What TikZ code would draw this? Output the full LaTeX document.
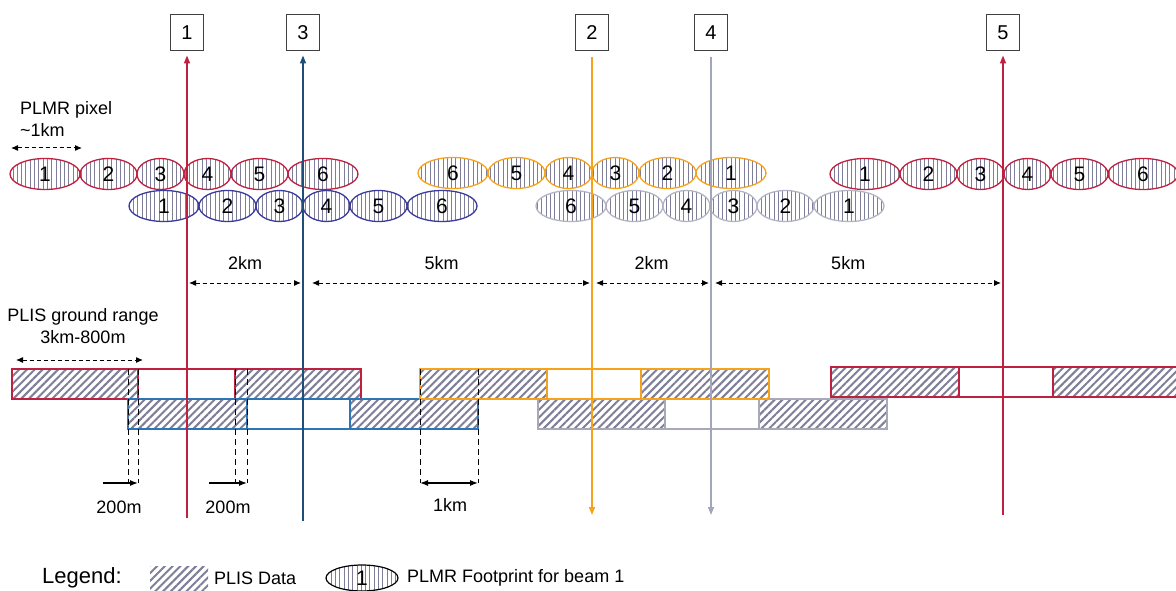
\documentclass[tikz,border=0pt]{standalone}
\usepackage{fontspec}
\setmainfont{Liberation Sans}
\usetikzlibrary{arrows.meta,positioning,shapes.geometric,patterns.meta}

\definecolor{beamred}{HTML}{C0203F}
\definecolor{beamnavy}{HTML}{1F4E79}
\definecolor{beamorange}{HTML}{F7A21B}
\definecolor{beamgrey}{HTML}{A3A6BA}
\definecolor{fpblue}{HTML}{3B3B9E}
\definecolor{fpgrey}{HTML}{B3B3C3}
\definecolor{rectblue}{HTML}{2E75B6}
\definecolor{rectgrey}{HTML}{A8A8B8}
\definecolor{hatchgrey}{HTML}{7E7E98}

\begin{document}
\begin{tikzpicture}[
        x=1pt, y=-1pt,
        font=\fontsize{18}{22}\selectfont,
        beambox/.style={rectangle, draw=black!75, line width=1pt, minimum width=33pt, minimum height=36pt, inner sep=0pt, font=\fontsize{20}{22}\selectfont},
        beamup/.style={line width=1.5pt, -{Triangle[length=8pt,width=6pt]}, shorten >=4pt},
        beamdown/.style={line width=1.5pt, -{Triangle[length=8pt,width=6pt]}, shorten <=6pt},
        footprint/.style={ellipse, draw, line width=1.3pt, inner sep=0pt, outer sep=0pt, minimum height=31pt, preaction={pattern={Lines[angle=90,distance=4.3pt,line width=0.75pt]}, pattern color=hatchgrey}, font=\fontsize{21}{22}\selectfont},
        fpwide/.style={footprint, minimum width=70pt},
        fpmid/.style={footprint, minimum width=57pt},
        fpnarrow/.style={footprint, minimum width=47pt},
        plis/.style={rectangle, line width=1.4pt, inner sep=0pt, outer sep=0pt, minimum height=30pt},
        plisdata/.style={plis, preaction={pattern={Lines[angle=45,distance=5.5pt,line width=2pt]}, pattern color=hatchgrey}},
        guide/.style={line width=1pt, dash pattern=on 6pt off 4pt},
        dimdash/.style={line width=1pt, dash pattern=on 4pt off 3pt, {Latex[length=7pt,width=6pt]}-{Latex[length=7pt,width=6pt]}, shorten <=2pt, shorten >=2pt},
        dimsolid/.style={line width=1.3pt, -{Latex[length=8pt,width=6pt]}},
        dimboth/.style={line width=1.3pt, {Latex[length=8pt,width=6pt]}-{Latex[length=8pt,width=6pt]}},
        dimlabel/.style={midway, yshift=20pt, inner sep=0pt}
    ]
    \useasboundingbox (0,0) rectangle (1176,591);

    % Beam boxes
    \node [beambox] (box1) at (187,33) {1};
    \node [beambox] (box3) at (303,33) {3};
    \node [beambox] (box2) at (592,33) {2};
    \node [beambox] (box4) at (711,33) {4};
    \node [beambox] (box5) at (1003,33) {5};

    % Beam feet
    \coordinate (foot1) at (187,518);
    \coordinate (foot3) at (303,521);
    \coordinate (foot2) at (592,515);
    \coordinate (foot4) at (711,515);
    \coordinate (foot5) at (1003,515);

    % PLMR pixel size
    \node [anchor=west, align=left, inner sep=0pt] (pixtext) at (20,119) {PLMR pixel\\\textasciitilde1km};

    % Beam 1 footprints
    \node [fpwide, draw=beamred] (b1-1) at (45,174) {1};
    \node [fpmid, draw=beamred, right=0pt of b1-1] (b1-2) {2};
    \node [fpnarrow, draw=beamred, right=0pt of b1-2] (b1-3) {3};
    \node [fpnarrow, draw=beamred, right=0pt of b1-3] (b1-4) {4};
    \node [fpmid, draw=beamred, right=0pt of b1-4] (b1-5) {5};
    \node [fpwide, draw=beamred, right=0pt of b1-5] (b1-6) {6};

    % Beam 3 footprints
    \node [fpwide, draw=fpblue] (b3-1) at (164,206) {1};
    \node [fpmid, draw=fpblue, right=0pt of b3-1] (b3-2) {2};
    \node [fpnarrow, draw=fpblue, right=0pt of b3-2] (b3-3) {3};
    \node [fpnarrow, draw=fpblue, right=0pt of b3-3] (b3-4) {4};
    \node [fpmid, draw=fpblue, right=0pt of b3-4] (b3-5) {5};
    \node [fpwide, draw=fpblue, right=0pt of b3-5] (b3-6) {6};

    % Beam 2 footprints
    \node [fpwide, draw=beamorange] (b2-6) at (453,173) {6};
    \node [fpmid, draw=beamorange, right=0pt of b2-6] (b2-5) {5};
    \node [fpnarrow, draw=beamorange, right=0pt of b2-5] (b2-4) {4};
    \node [fpnarrow, draw=beamorange, right=0pt of b2-4] (b2-3) {3};
    \node [fpmid, draw=beamorange, right=0pt of b2-3] (b2-2) {2};
    \node [fpwide, draw=beamorange, right=0pt of b2-2] (b2-1) {1};

    % Beam 4 footprints
    \node [fpwide, draw=fpgrey] (b4-6) at (571,206) {6};
    \node [fpmid, draw=fpgrey, right=0pt of b4-6] (b4-5) {5};
    \node [fpnarrow, draw=fpgrey, right=0pt of b4-5] (b4-4) {4};
    \node [fpnarrow, draw=fpgrey, right=0pt of b4-4] (b4-3) {3};
    \node [fpmid, draw=fpgrey, right=0pt of b4-3] (b4-2) {2};
    \node [fpwide, draw=fpgrey, right=0pt of b4-2] (b4-1) {1};

    % Beam 5 footprints
    \node [fpwide, draw=beamred] (b5-1) at (865,174) {1};
    \node [fpmid, draw=beamred, right=0pt of b5-1] (b5-2) {2};
    \node [fpnarrow, draw=beamred, right=0pt of b5-2] (b5-3) {3};
    \node [fpnarrow, draw=beamred, right=0pt of b5-3] (b5-4) {4};
    \node [fpmid, draw=beamred, right=0pt of b5-4] (b5-5) {5};
    \node [fpwide, draw=beamred, right=0pt of b5-5] (b5-6) {6};

    % PLIS ground range
    \node [align=center, inner sep=0pt] (plistext) at (83,326) {PLIS ground range\\3km-800m};

    % PLIS swaths, beam 1
    \node [plisdata, draw=beamred, minimum width=126pt, anchor=north west] (r1a) at (12,369) {};
    \node [plis, draw=beamred, minimum width=97pt, right=0pt of r1a] (r1b) {};
    \node [plisdata, draw=beamred, minimum width=126pt, right=0pt of r1b] (r1c) {};

    % PLIS swaths, beam 3
    \node [plisdata, draw=rectblue, minimum width=119pt, anchor=north west] (r3a) at (128,399) {};
    \node [plis, draw=rectblue, minimum width=103pt, right=0pt of r3a] (r3b) {};
    \node [plisdata, draw=rectblue, minimum width=128pt, right=0pt of r3b] (r3c) {};

    % PLIS swaths, beam 4
    \node [plisdata, draw=rectgrey, minimum width=127pt, anchor=north west] (r4a) at (538,399) {};
    \node [plis, draw=rectgrey, minimum width=94pt, right=0pt of r4a] (r4b) {};
    \node [plisdata, draw=rectgrey, minimum width=128pt, right=0pt of r4b] (r4c) {};

    % PLIS swaths, beam 2
    \node [plisdata, draw=beamorange, minimum width=127pt, anchor=north west] (r2a) at (420,369) {};
    \node [plis, draw=beamorange, minimum width=94pt, right=0pt of r2a] (r2b) {};
    \node [plisdata, draw=beamorange, minimum width=128pt, right=0pt of r2b] (r2c) {};

    % PLIS swaths, beam 5
    \node [plisdata, draw=beamred, minimum width=128pt, anchor=north west] (r5a) at (831,367) {};
    \node [plis, draw=beamred, minimum width=94pt, right=0pt of r5a] (r5b) {};
    \node [plisdata, draw=beamred, minimum width=128pt, right=0pt of r5b] (r5c) {};

    % Size arrows
    \coordinate (pixrow) at (0,148);
    \coordinate (plisrow) at (0,360);
    \coordinate (toprow) at (0,283);
    \coordinate (lowrow) at (0,483);
    \coordinate (tail1) at (103,483);
    \coordinate (tail2) at (209,483);
    \draw [dimdash, shorten <=1pt, shorten >=-2pt] (b1-1.west |- pixrow) -- (b1-1.east |- pixrow);
    \draw [dimdash, shorten <=4pt, shorten >=-5pt] (r1a.west |- plisrow) -- (r1a.east |- plisrow);

    % Beam spacing
    \draw [dimdash] (box1 |- toprow) -- node [dimlabel] (d12) {2km} (box3 |- toprow);
    \draw [dimdash, shorten <=9pt] (box3 |- toprow) -- node [dimlabel, pos=0.48] (d32) {5km} (box2 |- toprow);
    \draw [dimdash, shorten <=4pt] (box2 |- toprow) -- node [dimlabel] (d24) {2km} (box4 |- toprow);
    \draw [dimdash, shorten <=4pt] (box4 |- toprow) -- node [dimlabel, pos=0.47] (d45) {5km} (box5 |- toprow);

    % Overlap guides
    \draw [guide] (r3a.north west |- r1a.north) -- (r3a.north west |- lowrow);
    \draw [guide] (r1a.north east) -- (r1a.north east |- lowrow);
    \draw [guide] (r1c.north west) -- (r1c.north west |- lowrow);
    \draw [guide] (r3a.north east |- r1c.north) -- (r3a.north east |- lowrow);
    \draw [guide] (r2a.north west) -- (r2a.north west |- lowrow);
    \draw [guide] (r3c.north east |- r2a.north) -- (r3c.north east |- lowrow);
    \draw [dimsolid] (tail1) -- (r1a.north east |- lowrow);
    \draw [dimsolid] (tail2) -- (r3a.north east |- lowrow);
    \draw [dimboth] (r2a.north west |- lowrow) -- (r3c.north east |- lowrow);
    \node (shift1) at (119,507) {200m};
    \node (shift2) at (228,507) {200m};
    \node (onekm) at (450,505) {1km};

    % Beam lines
    \draw [beamup, draw=beamred] (foot1) -- (box1);
    \draw [beamup, draw=beamnavy] (foot3) -- (box3);
    \draw [beamdown, draw=beamorange] (box2) -- (foot2);
    \draw [beamdown, draw=beamgrey] (box4) -- (foot4);
    \draw [beamup, draw=beamred] (foot5) -- (box5);

    % Legend
    \node [anchor=west, inner sep=0pt, font=\fontsize{22}{24}\selectfont] (legend) at (42,578) {Legend:};
    \node [plisdata, minimum width=58pt, minimum height=24pt] (leghatch) at (179,578) {};
    \node [anchor=west, inner sep=0pt, right=6pt of leghatch] (legplis) {PLIS Data};
    \node [footprint, draw=black, line width=1.2pt, minimum width=72pt, minimum height=26pt] (legfp) at (362,578) {1};
    \node [anchor=west, inner sep=0pt, right=9pt of legfp] (legplmr) {PLMR Footprint for beam 1};

\end{tikzpicture}
\end{document}
